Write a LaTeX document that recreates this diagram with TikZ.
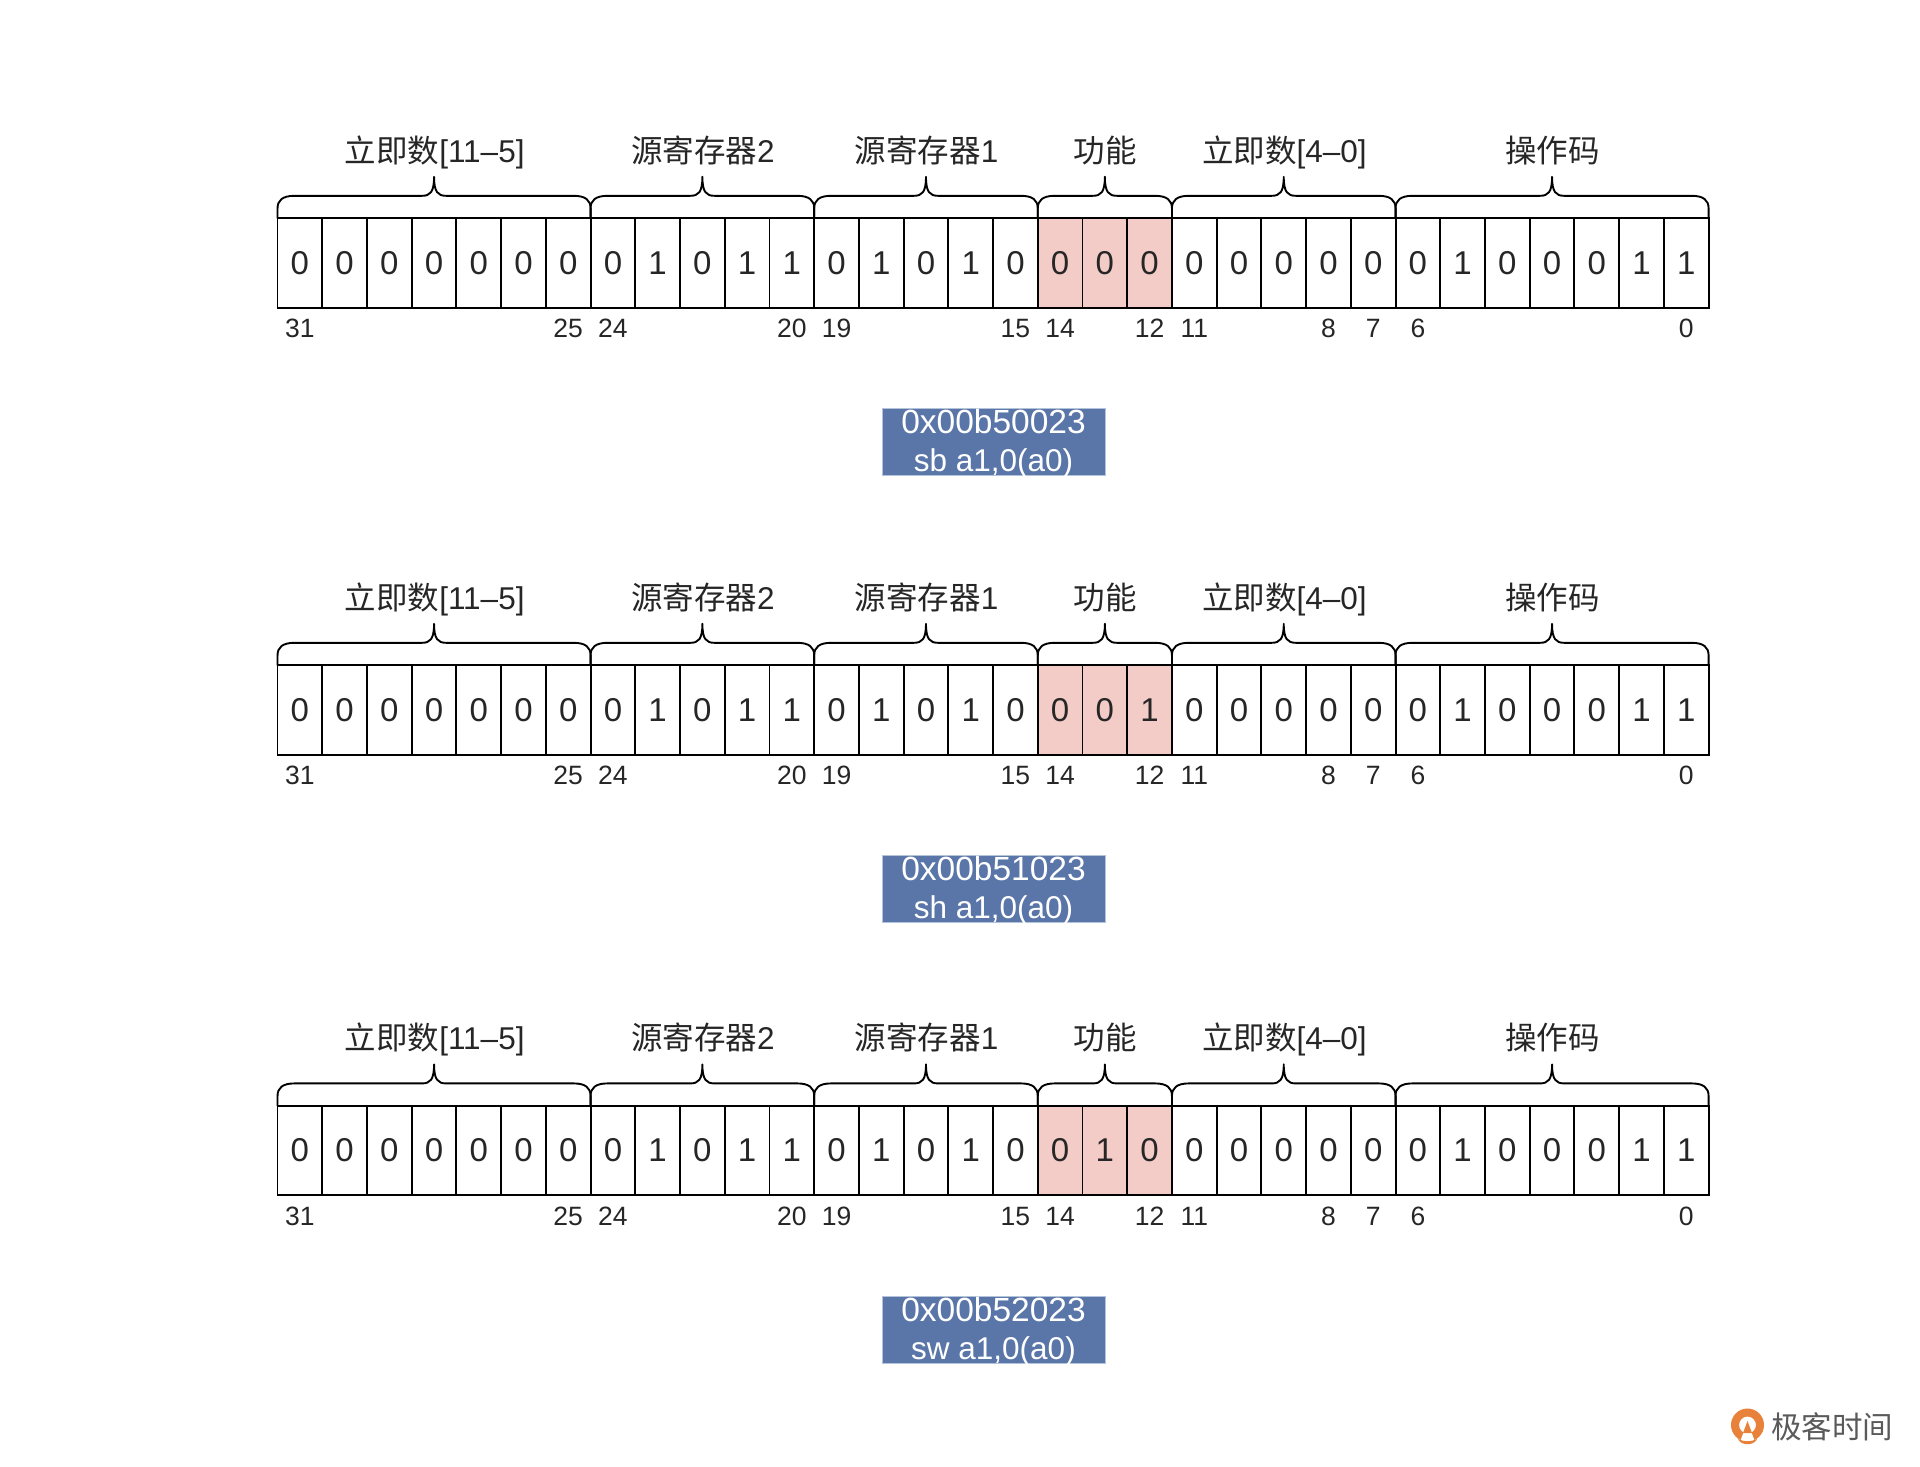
\documentclass[tikz,border=0pt]{standalone}
\usepackage{fontspec}
\setmainfont{Liberation Sans}
\newfontfamily\cjk{Noto Sans CJK SC}
\usetikzlibrary{calc}
\definecolor{pinkcell}{HTML}{F3CBC7}
\definecolor{bluebox}{HTML}{5A76A8}
\definecolor{bluebord}{HTML}{B4C3DC}
\definecolor{logogray}{HTML}{5A5A5A}
\definecolor{logoor}{HTML}{E8823A}
\tikzset{
  bitcell/.style={draw=black,line width=1.9pt,inner sep=0,outer sep=0,minimum width=44.72pt,minimum height=89.4pt,font=\fontsize{33}{33}\selectfont,text=black!85},
  numlabel/.style={inner sep=0,font=\fontsize{26.5}{26.5}\selectfont,text=black!85},
  titlelabel/.style={inner sep=0,anchor=base,font=\fontsize{31.5}{31.5}\selectfont,text=black!85},
  asmbox/.style={fill=bluebox,draw=bluebord,line width=0.6pt,inner sep=0,outer sep=0,minimum width=223pt,minimum height=67.4pt},
  asmtext/.style={inner sep=0,align=center,text=white,font=\fontsize{33.5}{38}\selectfont},
  bracepath/.style={draw=black,line width=1.9pt,line join=round},
  logotext/.style={inner sep=0,text=logogray,font=\cjk\fontsize{30.5}{30.5}\selectfont}
}
\newcommand{\fieldbrace}[5]{% row, first cell, last cell, title, title name
  \path let \p1=(c#1-#2.north west), \p2=(c#1-#3.north east) in
    coordinate (bl) at (\p1) coordinate (br) at (\p2);
  \draw[bracepath] let \p1=(bl), \p2=(br), \n1={0.5*(\x1+\x2)} in
    (\p1) -- (\x1,\y1+10pt)
    .. controls (\x1,\y1+18pt) and (\x1+5pt,\y1+22.5pt) .. (\x1+17pt,\y1+22.5pt)
    -- (\n1-12pt,\y1+22.5pt)
    .. controls (\n1-4pt,\y1+22.5pt) and (\n1,\y1+26pt) .. (\n1,\y1+41.5pt)
    .. controls (\n1,\y1+26pt) and (\n1+4pt,\y1+22.5pt) .. (\n1+12pt,\y1+22.5pt)
    -- (\x2-17pt,\y1+22.5pt)
    .. controls (\x2-5pt,\y1+22.5pt) and (\x2,\y1+18pt) .. (\x2,\y1+10pt)
    -- (\p2);
  \node[titlelabel] (t#1-#5) at ($(bl)!0.5!(br)+(0.6pt,56pt)$) {#4};
}
\begin{document}
\begin{tikzpicture}[x=1pt,y=-1pt]
\useasboundingbox (0,0) rectangle (1920,1467);
\fill[white] (0,0) rectangle (1920,1467);
\foreach \r/\dy/\fa/\fb/\fc/\hex/\asm in {
  1/0/0/0/0/0x00b50023/{sb a1,0(a0)},
  2/447/0/0/1/0x00b51023/{sh a1,0(a0)},
  3/887.6/0/1/0/0x00b52023/{sw a1,0(a0)}}{
  \pgfmathsetmacro{\ymid}{263+\dy}
  \pgfmathsetmacro{\ylab}{328.5+\dy}
  \pgfmathsetmacro{\ybox}{442+\dy}
  \pgfmathsetmacro{\ytxt}{444+\dy}
  \foreach \b [count=\i from 0] in {0,0,0,0,0,0,0,0,1,0,1,1,0,1,0,1,0,\fa,\fb,\fc,0,0,0,0,0,0,1,0,0,0,1,1}{
    \pgfmathsetmacro{\xc}{299.9+\i*44.72}
    \def\cellfill{white}
    \ifnum\i>16 \ifnum\i<20 \def\cellfill{pinkcell}\fi\fi
    \node[bitcell,fill=\cellfill] (c\r-\i) at (\xc,\ymid) {\b};
  }
  \foreach \cellno/\txt in {0/31,6/25,7/24,11/20,12/19,16/15,17/14,19/12,20/11,23/8,24/7,25/6,31/0}{
    \pgfmathsetmacro{\xc}{299.9+\cellno*44.72}
    \node[numlabel] (n\r-\cellno) at (\xc,\ylab) {\txt};
  }
  \fieldbrace{\r}{0}{6}{{\cjk 立即数}[11–5]}{a}
  \fieldbrace{\r}{7}{11}{{\cjk 源寄存器}2}{b}
  \fieldbrace{\r}{12}{16}{{\cjk 源寄存器}1}{c}
  \fieldbrace{\r}{17}{19}{{\cjk 功能}}{d}
  \fieldbrace{\r}{20}{24}{{\cjk 立即数}[4–0]}{e}
  \fieldbrace{\r}{25}{31}{{\cjk 操作码}}{f}
  \node[asmbox] (box\r) at (993.5,\ybox) {};
  \node[asmtext] (asm\r) at (993.5,\ytxt) {\hex\\{\fontsize{31.5}{38}\selectfont\asm}};
}
% logo
\fill[logoor,even odd rule] (1747.5,1425) circle (16.5) (1747.5,1425) circle (8.5);
\fill[white] (1747.5,1421) -- (1740,1442) -- (1755,1442) -- cycle;
\fill[logoor] (1747.5,1421) -- (1743,1433) -- (1752,1433) -- cycle;
\fill[logoor] (1738,1439) .. controls (1744,1442) and (1751,1442) .. (1757,1439) .. controls (1754,1446) and (1741,1446) .. (1738,1439) -- cycle;
\node[logotext] (logo) at (1832,1427) {极客时间};
\end{tikzpicture}
\end{document}
